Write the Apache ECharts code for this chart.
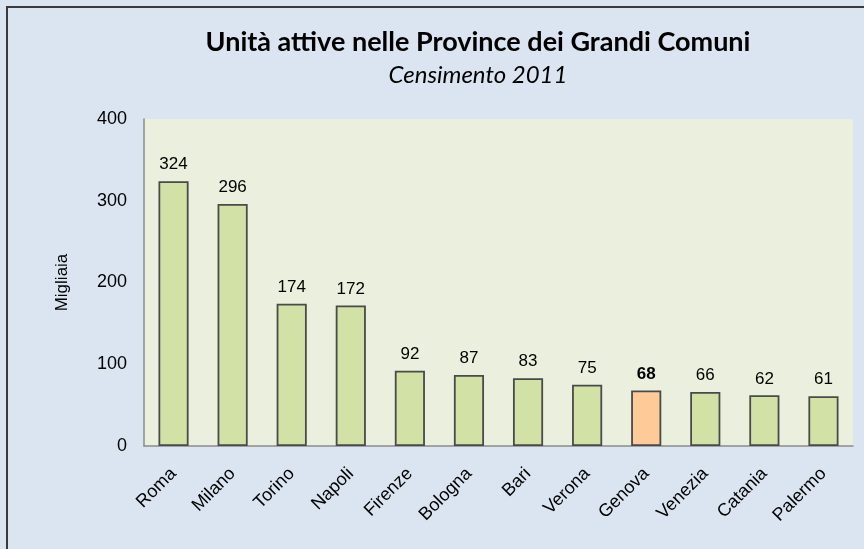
<!DOCTYPE html>
<html>
<head>
<meta charset="utf-8">
<script src="https://cdn.jsdelivr.net/npm/echarts@6/dist/echarts.min.js"></script>
<style>
  html, body { margin: 0; padding: 0; background: #dbe5f1; }
  #chart { width: 864px; height: 549px; }
</style>
</head>
<body>
<div id="chart"></div>
<script>
// dati censimento 2011 (migliaia)
const province = ['Roma', 'Milano', 'Torino', 'Napoli', 'Firenze', 'Bologna', 'Bari', 'Verona', 'Genova', 'Venezia', 'Catania', 'Palermo']
const unita = [324, 296, 174, 172, 92, 87, 83, 75, 68, 66, 62, 61]
const evidenza = 'Genova'
const yTicks = [0, 100, 200, 300, 400]

const chart = echarts.init(document.getElementById('chart'))

const barData = unita.map((v, i) => {
  const hl = province[i] === evidenza
  return {
    value: v,
    itemStyle: { color: hl ? '#fdca98' : '#d2e2a7' },
    label: { fontWeight: hl ? 'bold' : 'normal' }
  }
})

chart.setOption({
  backgroundColor: '#dbe5f1',
  animation: false,
  title: [
    {
      text: 'Unità attive nelle Province dei Grandi Comuni',
      left: 473, top: 24, textAlign: 'center',
      textStyle: { fontFamily: 'Lato', fontWeight: 'bold', fontSize: 27, color: '#000' }
    },
    {
      text: 'Censimento 2011',
      left: 473, top: 58, textAlign: 'center',
      textStyle: { fontFamily: 'Lato', fontStyle: 'italic', fontWeight: 'normal', fontSize: 24, color: '#000' }
    }
  ],
  graphic: [
    {
      type: 'rect',
      shape: { x: 7, y: 7, width: 900, height: 600 },
      style: { fill: null, stroke: '#3a3a3a', lineWidth: 2 },
      silent: true
    }
  ],
  grid: {
    left: 144, right: 11, top: 119, bottom: 103,
    show: true, backgroundColor: '#ebf0de', borderWidth: 0
  },
  xAxis: {
    type: 'category',
    data: province,
    axisLine: { lineStyle: { color: '#8c8c8c', width: 1.5 } },
    axisTick: { show: false },
    axisLabel: {
      rotate: 45, margin: 25, interval: 0,
      fontFamily: 'Liberation Sans', fontSize: 18, color: '#000'
    }
  },
  yAxis: {
    type: 'value',
    min: yTicks[0], max: yTicks[yTicks.length - 1], interval: 100,
    name: 'Migliaia',
    nameLocation: 'middle', nameGap: 73, nameRotate: 90,
    nameTextStyle: { fontFamily: 'Liberation Sans', fontSize: 17, color: '#000' },
    axisLine: { show: true, lineStyle: { color: '#8c8c8c', width: 1.5 } },
    axisTick: { show: false },
    splitLine: { show: false },
    axisLabel: { margin: 17, fontFamily: 'Liberation Sans', fontSize: 18, color: '#000' }
  },
  series: [
    {
      type: 'bar',
      data: barData,
      barWidth: '51%',
      itemStyle: { borderColor: '#4a4a4a', borderWidth: 1.8 },
      label: {
        show: true, position: 'top', distance: 8,
        fontFamily: 'Liberation Sans', fontSize: 17, color: '#000'
      }
    }
  ]
})
</script>
</body>
</html>
